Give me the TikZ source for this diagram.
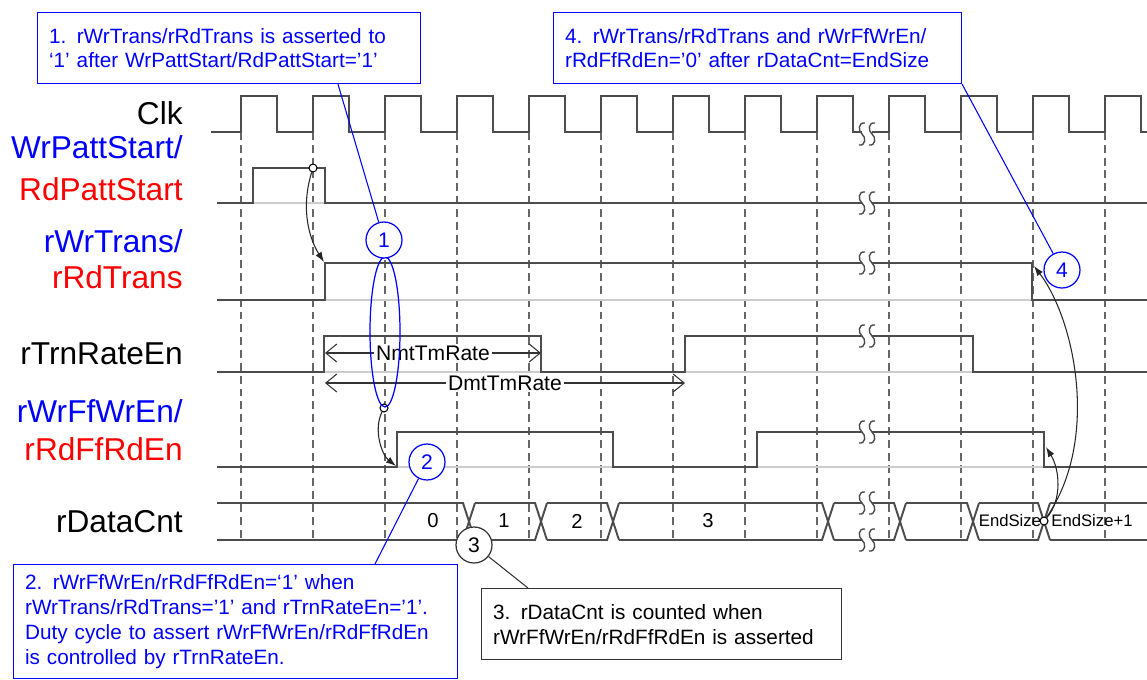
\documentclass[tikz,border=0pt]{standalone}
\usepackage{fontspec}
\setmainfont{Liberation Sans}
\usepackage{tikz}
\usetikzlibrary{arrows.meta, calc}

\tikzset{
  sig/.style={draw=black!70, line width=1.1pt},
  basis/.style={draw=black!20, line width=1pt},
  raster/.style={draw=black!60, line width=0.9pt, dash pattern=on 4.5pt off 2.8pt},
  signame/.style={anchor=base east, inner sep=0pt, font=\fontsize{18}{21}\selectfont},
  callbox/.style={draw=blue, fill=white, line width=0.7pt, text=blue, align=left,
    anchor=north west, inner xsep=0.23cm, font=\fontsize{11.8}{14.2}\selectfont},
  callnum/.style={circle, draw=blue, fill=white, text=blue, line width=0.7pt,
    minimum size=0.72cm, inner sep=0pt, font=\fontsize{12}{14}\selectfont},
  leader/.style={draw=blue, line width=0.6pt},
  dot/.style={circle, draw, fill=white, inner sep=0pt, minimum size=0.16cm, line width=0.6pt},
  kurve/.style={draw=black!85, line width=0.6pt, -{Latex[length=2mm, width=1.4mm]}},
  dimpfeil/.style={draw=black!80, line width=0.6pt,
    {Straight Barb[length=2.2mm, width=3.6mm]}-{Straight Barb[length=2.2mm, width=3.6mm]}},
  dimtext/.style={fill=white, inner sep=1pt, font=\fontsize{12}{14}\selectfont},
  cntval/.style={inner sep=0pt, font=\fontsize{11.5}{13}\selectfont},
  sigbreak/.pic={
    \fill[white] (-5,-4) rectangle (5,4);
    \foreach \dx in {-5,5}
      \draw[black!70, line width=0.8pt] ({\dx+3},-11) .. controls ({\dx-4},-12) and ({\dx-4},-3) .. (\dx,0)
        .. controls ({\dx+4},3) and ({\dx+4},12) .. ({\dx-3},11);
  }
}

\begin{document}
\begin{tikzpicture}[x=0.02cm, y=-0.02cm]
  \useasboundingbox (0,0) rectangle (1147,680);

  % Raster an den steigenden Taktflanken
  \foreach \k in {0,...,12}
    \draw[raster] ({241+72*\k},132) -- ({241+72*\k},542);

  % Signalnamen
  \node[signame] (nclk) at (183,124) {Clk};
  \node[signame, text=blue] (nwrpatt) at (183,158) {WrPattStart/};
  \node[signame, text=red] (nrdpatt) at (183,200) {RdPattStart};
  \node[signame, text=blue] (nwrtrans) at (183,252) {rWrTrans/};
  \node[signame, text=red] (nrdtrans) at (183,288) {rRdTrans};
  \node[signame] (nrate) at (183,364) {rTrnRateEn};
  \node[signame, text=blue] (nwrff) at (183,422) {rWrFfWrEn/};
  \node[signame, text=red] (nrdff) at (183,460) {rRdFfRdEn};
  \node[signame] (ncnt) at (183,532) {rDataCnt};

  % Takt
  \draw[sig] (211,132) \foreach \k in {0,...,12} {
      -- ({241+72*\k},132) -- ({241+72*\k},96) -- ({277+72*\k},96) -- ({277+72*\k},132) } -- (1147,132);

  % Grundlinien (Low-Pegel)
  \foreach \y in {203,300,372,467}
    \draw[basis] (217,\y) -- (1147,\y);

  % Steuersignale
  \draw[sig] (217,203) -- (253,203) -- (253,168) -- (325,168) -- (325,203) -- (1147,203);
  \draw[sig] (217,300) -- (325,300) -- (325,263) -- (1032,263) -- (1032,300) -- (1147,300);
  \draw[sig] (217,372) -- (324,372) -- (324,336) -- (541,336) -- (541,372) -- (685,372)
    -- (685,336) -- (973,336) -- (973,372) -- (1147,372);
  \draw[sig] (217,467) -- (397,467) -- (397,432) -- (613,432) -- (613,467) -- (757,467)
    -- (757,432) -- (1044,432) -- (1044,467) -- (1147,467);

  % Datenbus rDataCnt
  \foreach \a/\b in {211/469, 469/541, 541/613, 613/828, 828/900, 900/973, 973/1044}
    \draw[sig] ({\a+6},503) -- ({\b-6},503) -- ({\b+6},540)
               ({\a+6},540) -- ({\b-6},540) -- ({\b+6},503);
  \draw[sig] (1050,503) -- (1147,503) (1050,540) -- (1147,540);
  \node[cntval] (v0) at (433,521) {0};
  \node[cntval] (v1) at (504,521) {1};
  \node[cntval] (v2) at (577,521) {2};
  \node[cntval] (v3) at (708,521) {3};
  \node[cntval, font=\fontsize{9.5}{11}\selectfont] (vend) at (1010,521) {EndSize};
  \node[cntval, font=\fontsize{9.5}{11}\selectfont] (vend1) at (1092,521) {EndSize+1};

  % Bruchstellen
  \foreach \y in {134,203,263,336,432,503,540}
    \pic at (867,\y) {sigbreak};

  % Zeitmasse
  \draw[dimpfeil] (325,353) -- node[dimtext] (nmt) {NmtTmRate} (541,353);
  \draw[dimpfeil] (325,383) -- node[dimtext] (dmt) {DmtTmRate} (685,383);

  % Kausalpfeile
  \node[dot] (p1) at (313,168) {};
  \node[dot] (p2) at (384,408) {};
  \node[dot] (p3) at (1044,521) {};
  \coordinate (t1) at (324,262);
  \coordinate (t2) at (396,466);
  \coordinate (t3) at (1046,447);
  \coordinate (t4) at (1034,266);
  \draw[kurve] (p1) .. controls (300,210) and (310,240) .. (t1);
  \draw[kurve] (p2) .. controls (373,430) and (382,455) .. (t2);
  \draw[kurve] (p3) .. controls (1062,500) and (1060,470) .. (t3);
  \draw[kurve] (p3) .. controls (1100,440) and (1075,320) .. (t4);

  % Anmerkungen
  \draw[blue, line width=0.7pt] (385,332) ellipse [x radius=15, y radius=75];
  \node[callnum] (c1) at (384,240) {1};
  \node[callnum] (c2) at (427,462) {2};
  \node[callnum, draw=black!80, text=black] (c3) at (474,545) {3};
  \node[callnum] (c4) at (1062,270) {4};

  \node[callbox, text width=7.2cm, minimum height=1.42cm] (n1) at (37,12)
    {1. rWrTrans/rRdTrans is asserted to\\‘1’ after WrPattStart/RdPattStart=’1’};
  \node[callbox, text width=7.7cm, minimum height=1.42cm] (n4) at (553,12)
    {4. rWrTrans/rRdTrans and rWrFfWrEn/\\rRdFfRdEn=’0’ after rDataCnt=EndSize};
  \node[callbox, text width=8.42cm, minimum height=2.28cm] (n2) at (13,564)
    {2. rWrFfWrEn/rRdFfRdEn=‘1’ when\\rWrTrans/rRdTrans=’1’ and rTrnRateEn=’1’.\\Duty cycle to assert rWrFfWrEn/rRdFfRdEn\\is controlled by rTrnRateEn.};
  \node[callbox, draw=black!80, text=black, text width=6.74cm, minimum height=1.42cm] (n3) at (481,588)
    {3. rDataCnt is counted when\\rWrFfWrEn/rRdFfRdEn is asserted};

  \coordinate (l1) at ($(n1.south west)+(301,0)$);
  \coordinate (l2) at ($(n2.north west)+(362,0)$);
  \coordinate (l3) at ($(n3.north west)+(47,0)$);
  \draw[leader] (l1) -- (c1);
  \draw[leader] (l2) -- (c2);
  \draw[leader, draw=black!80] (l3) -- (c3);
  \draw[leader] (n4.south east) -- (c4);
\end{tikzpicture}
\end{document}
